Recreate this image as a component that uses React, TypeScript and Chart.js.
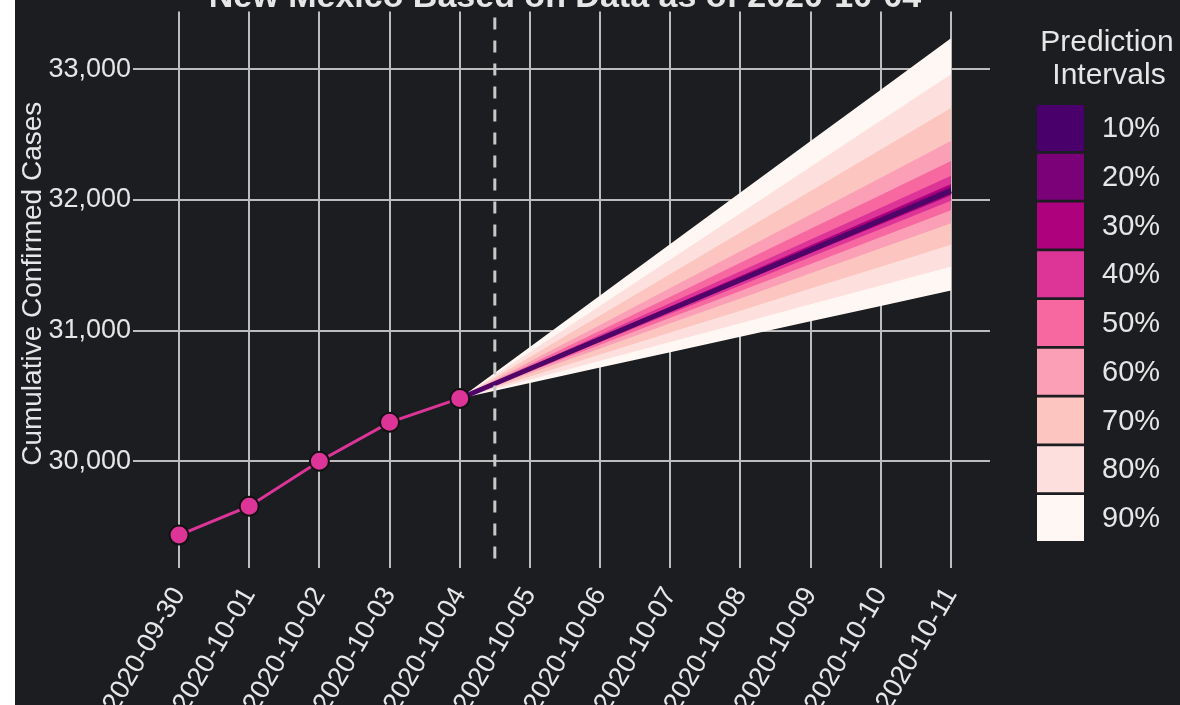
import React, { useEffect, useRef } from 'react';
import { Chart, registerables } from 'chart.js';

Chart.register(...registerables);

// ---------- data ----------
const dates = [
  '2020-09-30', '2020-10-01', '2020-10-02', '2020-10-03', '2020-10-04', '2020-10-05',
  '2020-10-06', '2020-10-07', '2020-10-08', '2020-10-09', '2020-10-10', '2020-10-11',
];
const observedCases = [29435, 29656, 30000, 30298, 30481];
const forecastStartIndex = 4; // forecasts start at 2020-10-04
const cutoffIndex = 4.5; // data cut-off marker between 10-04 and 10-05
const medianForecast = [30481, 30708, 30935, 31162, 31389, 31616, 31843, 32070];

const intervalLabels = ['10%', '20%', '30%', '40%', '50%', '60%', '70%', '80%', '90%'];
const intervalColors = ['#49006a', '#7a0177', '#ae017e', '#dd3497', '#f768a1', '#fa9fb5', '#fcc5c0', '#fde0dd', '#fff7f3'];

const upper10 = [30481, 30710, 30939, 31168, 31398, 31627, 31856, 32085];
const lower10 = [30481, 30707, 30932, 31158, 31383, 31609, 31834, 32060];
const upper20 = [30481, 30712, 30944, 31175, 31407, 31638, 31870, 32101];
const lower20 = [30481, 30705, 30929, 31153, 31378, 31602, 31826, 32050];
const upper30 = [30481, 30716, 30950, 31185, 31419, 31654, 31888, 32123];
const lower30 = [30481, 30703, 30925, 31147, 31370, 31592, 31814, 32036];
const upper40 = [30481, 30724, 30968, 31211, 31455, 31698, 31941, 32185];
const lower40 = [30481, 30697, 30914, 31130, 31346, 31563, 31779, 31995];
const upper50 = [30481, 30741, 31000, 31260, 31520, 31780, 32039, 32299];
const lower50 = [30481, 30687, 30892, 31098, 31304, 31510, 31716, 31921];
const upper60 = [30481, 30763, 31044, 31326, 31607, 31889, 32171, 32452];
const lower60 = [30481, 30673, 30864, 31056, 31247, 31439, 31631, 31822];
const upper70 = [30481, 30799, 31116, 31434, 31751, 32069, 32387, 32704];
const lower70 = [30481, 30649, 30817, 30985, 31153, 31322, 31490, 31658];
const upper80 = [30481, 30836, 31190, 31545, 31899, 32254, 32609, 32963];
const lower80 = [30481, 30625, 30769, 30913, 31057, 31202, 31346, 31490];
const upper90 = [30481, 30875, 31269, 31663, 32057, 32451, 32844, 33238];
const lower90 = [30481, 30599, 30717, 30835, 30953, 31071, 31189, 31307];

const intervalUppers = [upper10, upper20, upper30, upper40, upper50, upper60, upper70, upper80, upper90];
const intervalLowers = [lower10, lower20, lower30, lower40, lower50, lower60, lower70, lower80, lower90];

const yTicks = [30000, 31000, 32000, 33000];
const titleText = 'New Mexico Based on Data as of 2020-10-04';
const yAxisTitle = 'Cumulative Confirmed Cases';
const legendTitle = ['Prediction', 'Intervals'];

// ---------- styles ----------
const BG = '#1b1d21';
const TEXT = '#e6e6e6';
const GRID = '#bdbdbd';
const FONT = '"Liberation Sans", Arial, sans-serif';

const toPoints = (vals: number[], start: number) => vals.map((v, i) => ({ x: start + i, y: v }));

export default function App() {
  const ref = useRef<HTMLCanvasElement | null>(null);

  useEffect(() => {
    document.body.style.margin = '0';
    const canvas = ref.current;
    if (!canvas) return;

    const bandDatasets: any[] = [];
    intervalLabels.forEach((lab, k) => {
      bandDatasets.push({
        label: lab + ' upper',
        data: toPoints(intervalUppers[k], forecastStartIndex),
        borderColor: 'transparent',
        borderWidth: 0,
        pointRadius: 0,
        backgroundColor: intervalColors[k],
        fill: '+1',
      });
      bandDatasets.push({
        label: lab + ' lower',
        data: toPoints(intervalLowers[k], forecastStartIndex),
        borderColor: 'transparent',
        borderWidth: 0,
        pointRadius: 0,
        fill: false,
      });
    });

    const overlayPlugin = {
      id: 'overlay',
      afterDatasetsDraw(chart: any) {
        const { ctx, chartArea, scales } = chart;
        const x = scales.x.getPixelForValue(cutoffIndex);
        ctx.save();
        ctx.strokeStyle = '#c8c8c8';
        ctx.lineWidth = 3;
        ctx.setLineDash([12, 11]);
        ctx.beginPath();
        ctx.moveTo(x, chartArea.top + 6);
        ctx.lineTo(x, chartArea.bottom + 5);
        ctx.stroke();
        ctx.restore();
      },
      afterDraw(chart: any) {
        const { ctx, chartArea } = chart;
        ctx.save();
        // title (top part cut off by the frame)
        ctx.fillStyle = TEXT;
        ctx.font = 'bold 34px ' + FONT;
        ctx.textAlign = 'center';
        ctx.textBaseline = 'alphabetic';
        ctx.fillText(titleText, (chartArea.left + chartArea.right) / 2, 7);

        // legend
        ctx.font = '30px ' + FONT;
        ctx.textBaseline = 'middle';
        ctx.fillText(legendTitle[0], 1092, 43);
        ctx.fillText(legendTitle[1], 1094, 76);
        ctx.font = '29px ' + FONT;
        ctx.textAlign = 'left';
        intervalLabels.forEach((lab, k) => {
          const top = 105 + 48.75 * k;
          ctx.fillStyle = intervalColors[k];
          ctx.fillRect(1022, top, 47, 46);
          ctx.fillStyle = TEXT;
          ctx.fillText(lab, 1087, top + 24);
        });
        ctx.restore();
      },
    };

    const chart = new Chart(canvas, {
      type: 'line',
      data: {
        datasets: [
          {
            label: 'Observed',
            data: toPoints(observedCases, 0),
            borderColor: '#dd3497',
            borderWidth: 3,
            pointRadius: 9.5,
            pointBackgroundColor: '#dd3497',
            pointBorderColor: '#111111',
            pointBorderWidth: 2,
            fill: false,
          },
          {
            label: 'Median',
            data: toPoints(medianForecast, forecastStartIndex),
            borderColor: '#4f0468',
            borderWidth: 5,
            pointRadius: 0,
            fill: false,
          },
          ...bandDatasets,
        ],
      },
      options: {
        animation: false,
        responsive: false,
        devicePixelRatio: 1,
        layout: { padding: { top: 10, right: 190, left: 0, bottom: 0 } },
        plugins: {
          legend: { display: false },
          tooltip: { enabled: false },
          title: { display: false },
        },
        scales: {
          x: {
            type: 'linear',
            min: -0.556,
            max: 11.556,
            afterBuildTicks: (s: any) => {
              s.ticks = dates.map((_, i) => ({ value: i }));
            },
            afterFit: (s: any) => {
              s.height = 149;
              s.paddingLeft = 0;
              s.paddingRight = 0;
            },
            ticks: {
              callback: (v: any) => dates[Math.round(v)] ?? '',
              color: TEXT,
              font: { family: FONT, size: 27 },
              minRotation: 60,
              maxRotation: 60,
              autoSkip: false,
              padding: 14,
            },
            grid: { color: GRID, lineWidth: 2, tickLength: 12 },
            border: { display: false },
          },
          y: {
            type: 'linear',
            min: 29275,
            max: 33443,
            afterBuildTicks: (s: any) => {
              s.ticks = yTicks.map((v) => ({ value: v }));
            },
            afterFit: (s: any) => {
              s.width = 125;
              s.paddingTop = 0;
              s.paddingBottom = 0;
            },
            ticks: {
              callback: (v: any) => Number(v).toLocaleString('en-US'),
              color: TEXT,
              font: { family: FONT, size: 27 },
              padding: 2,
            },
            grid: { color: GRID, lineWidth: 2, tickLength: 7 },
            border: { display: false },
            title: {
              display: true,
              text: yAxisTitle,
              color: TEXT,
              font: { family: FONT, size: 28 },
              padding: { top: 1, bottom: 0 },
            },
          },
        },
      } as any,
      plugins: [overlayPlugin],
    });

    return () => chart.destroy();
  }, []);

  return (
    <div style={{ display: 'flex', width: 1180, height: 705, background: '#ffffff' }}>
      <div style={{ width: 15, height: 705, background: '#ffffff' }} />
      <canvas ref={ref} width={1165} height={705} style={{ display: 'block', width: 1165, height: 705, background: BG }} />
    </div>
  );
}
